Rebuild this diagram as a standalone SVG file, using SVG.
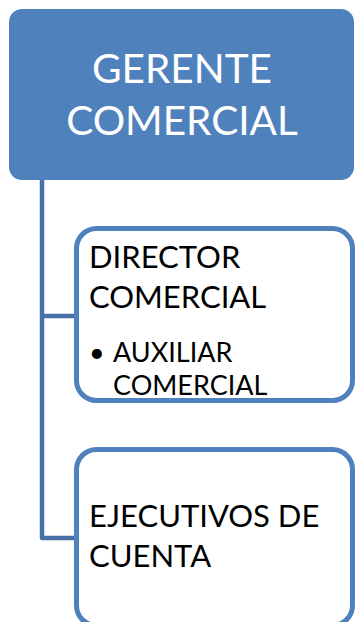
<svg xmlns="http://www.w3.org/2000/svg" width="355" height="622" viewBox="0 0 355 622">
<style>
.conn{fill:none;stroke:#4670A6;stroke-width:4.5;stroke-linejoin:round}
.child{fill:#FFFFFF;stroke:#4F81BD;stroke-width:5}
.t{font-family:Lato,"Open Sans","Liberation Sans",sans-serif;fill:#000000}
.w{fill:#FFFFFF}
</style>
<rect width="355" height="622" fill="#FFFFFF"/>
<g id="connectors">
<path class="conn" d="M42,180 V538 H77"/>
<path class="conn" d="M42,316 H77"/>
</g>
<g id="gerente">
<rect x="9" y="9" width="345" height="171" rx="13" fill="#4F81BD"/>
<text class="t w" x="182" y="83" font-size="40.5" text-anchor="middle">GERENTE</text>
<text class="t w" x="182" y="135" font-size="40.5" text-anchor="middle">COMERCIAL</text>
</g>
<g id="director">
<rect class="child" x="76.5" y="228.5" width="276" height="172" rx="20"/>
<text class="t" x="89" y="268" font-size="31">DIRECTOR</text>
<text class="t" x="89" y="308" font-size="31">COMERCIAL</text>
<text class="t" x="89" y="362" font-size="27">•</text>
<text class="t" x="113" y="362" font-size="27">AUXILIAR</text>
<text class="t" x="113" y="395" font-size="27">COMERCIAL</text>
</g>
<g id="ejecutivos">
<rect class="child" x="76.5" y="449.5" width="276" height="176" rx="20"/>
<text class="t" x="89" y="527" font-size="31">EJECUTIVOS DE</text>
<text class="t" x="89" y="567" font-size="31">CUENTA</text>
</g>
</svg>
